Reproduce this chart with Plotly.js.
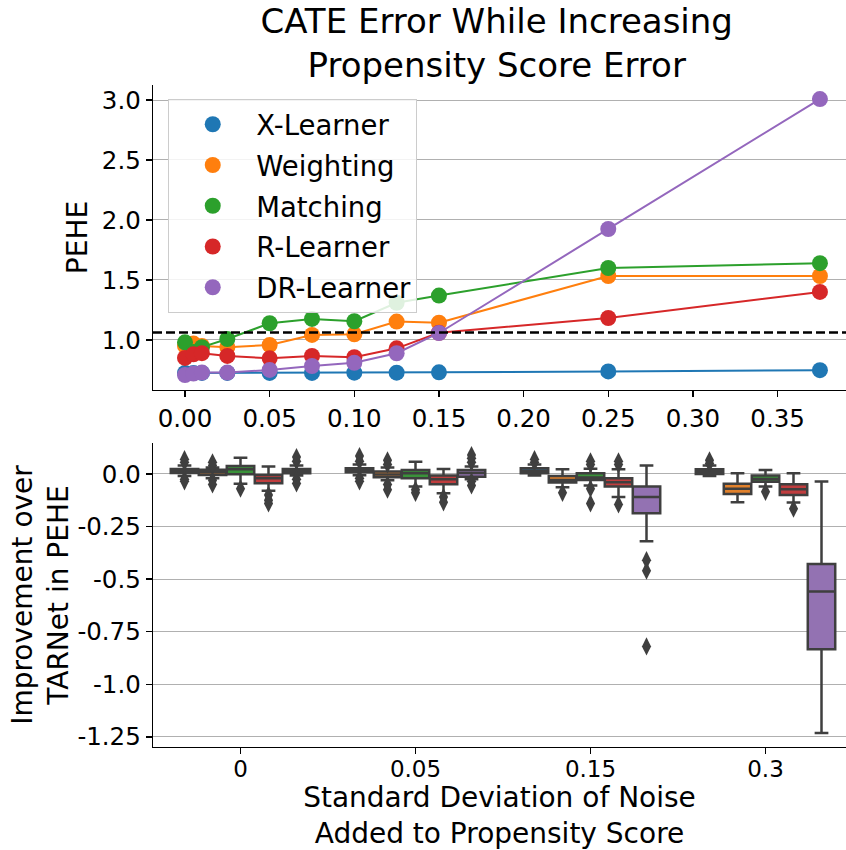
<!DOCTYPE html>
<html>
<head>
<meta charset="utf-8">
<script src="https://cdn.plot.ly/plotly-3.0.1.min.js"></script>
<style>html,body{margin:0;padding:0;background:#fff;}#chart{width:846px;height:850px;}</style>
</head>
<body>
<div id="chart"></div>
<script>
// ---------- Top panel data ----------
const noiseSD = [0, 0.005, 0.01, 0.025, 0.05, 0.075, 0.1, 0.125, 0.15, 0.25, 0.375];
const learners = ['X-Learner', 'Weighting', 'Matching', 'R-Learner', 'DR-Learner'];
const pehe_X  = [0.725, 0.725, 0.725, 0.725, 0.725, 0.725, 0.727, 0.727, 0.73, 0.738, 0.748];
const pehe_W  = [0.95, 0.97, 0.95, 0.939, 0.958, 1.042, 1.047, 1.153, 1.144, 1.533, 1.533];
const pehe_M  = [0.98, 0.90, 0.94, 1.008, 1.139, 1.175, 1.156, 1.31, 1.37, 1.60, 1.64];
const pehe_R  = [0.85, 0.88, 0.89, 0.867, 0.847, 0.867, 0.856, 0.93, 1.06, 1.183, 1.40];
const pehe_DR = [0.708, 0.72, 0.728, 0.728, 0.75, 0.783, 0.81, 0.889, 1.058, 1.925, 3.008];
const tarnetPEHE = 1.062;

// ---------- Bottom panel data ----------
const noiseGroups = ['0', '0.05', '0.15', '0.3'];
// rows: learners (X, Weighting, Matching, R, DR); cols: noise groups
const q1Vals = [
  [0.005, 0.008, 0.003, 0.0],
  [-0.005, -0.016, -0.041, -0.095],
  [-0.002, -0.02, -0.029, -0.037],
  [-0.044, -0.049, -0.06, -0.1],
  [0.003, -0.013, -0.187, -0.833]
];
const medianVals = [
  [0.014, 0.018, 0.014, 0.012],
  [0.008, -0.003, -0.029, -0.07],
  [0.022, 0.003, -0.017, -0.024],
  [-0.02, -0.025, -0.04, -0.073],
  [0.012, 0.005, -0.11, -0.559]
];
const q3Vals = [
  [0.024, 0.027, 0.027, 0.022],
  [0.02, 0.011, -0.01, -0.047],
  [0.038, 0.019, 0.003, -0.008],
  [-0.005, -0.008, -0.02, -0.049],
  [0.024, 0.019, -0.06, -0.428]
];
const lowerWhisker = [
  [-0.01, -0.006, -0.008, -0.01],
  [-0.02, -0.03, -0.063, -0.135],
  [-0.047, -0.06, -0.055, -0.06],
  [-0.08, -0.092, -0.11, -0.136],
  [-0.008, -0.025, -0.32, -1.232]
];
const upperWhisker = [
  [0.04, 0.045, 0.045, 0.04],
  [0.03, 0.03, 0.022, 0.003],
  [0.077, 0.058, 0.025, 0.019],
  [0.035, 0.024, 0.022, 0.003],
  [0.04, 0.035, 0.04, -0.036]
];
const flierVals = [
  [[0.07, 0.055, -0.025, -0.035], [0.085, 0.06, -0.02, -0.035], [0.07, 0.055], [0.065, 0.05]],
  [[0.04, 0.055, -0.03, -0.05], [0.045, 0.065, -0.05, -0.075], [-0.09], []],
  [[-0.07], [-0.075, -0.09], [0.045, 0.06, -0.07, -0.14], [-0.085]],
  [[-0.1, -0.125, -0.14], [-0.11, -0.135], [0.045, 0.06, -0.145], [-0.165]],
  [[0.06, 0.08, -0.025, -0.045], [0.055, 0.075, 0.09, -0.035, -0.055], [-0.41, -0.46, -0.82], []]
];
const yTickVals2 = [0, -0.25, -0.5, -0.75, -1.0, -1.25];
const yTickText2 = ['0.0', '-0.25', '-0.5', '-0.75', '-1.0', '-1.25'];

// ---------- Styles ----------
const lineColors = ['#1f77b4', '#ff7f0e', '#2ca02c', '#d62728', '#9467bd'];
const boxColors  = ['#3274a1', '#e1812c', '#3a923a', '#c03d3e', '#9372b2'];
const boxEdge = '#3f3f3f';
const peheSeries = [pehe_X, pehe_W, pehe_M, pehe_R, pehe_DR];

const traces = [];
peheSeries.forEach((ys, i) => {
  traces.push({
    type: 'scatter', mode: 'lines+markers', x: noiseSD, y: ys,
    line: {color: lineColors[i], width: 2},
    marker: {color: lineColors[i], size: 16},
    showlegend: false, hoverinfo: 'skip', xaxis: 'x', yaxis: 'y'
  });
});
learners.forEach((name, i) => {
  traces.push({
    type: 'scatter', mode: 'markers', x: [null], y: [null], name: name,
    marker: {color: lineColors[i], size: 17},
    showlegend: true, xaxis: 'x', yaxis: 'y', legendgroup: 'g' + i
  });
});

// grouped boxes: seaborn-like dodge (total width 0.8 split among hues)
const nHue = learners.length;
const hueWidth = 0.8 / nHue;
learners.forEach((name, h) => {
  const off = (h - (nHue - 1) / 2) * hueWidth;
  const xs = noiseGroups.map((g, gi) => gi + off);
  traces.push({
    type: 'box', x: xs,
    q1: q1Vals[h], median: medianVals[h], q3: q3Vals[h],
    lowerfence: lowerWhisker[h], upperfence: upperWhisker[h],
    width: hueWidth * 0.98, whiskerwidth: 0.5,
    fillcolor: boxColors[h], line: {color: boxEdge, width: 2.5},
    boxpoints: false, showlegend: false, hoverinfo: 'skip',
    xaxis: 'x2', yaxis: 'y2'
  });
  const fx = [], fy = [];
  flierVals[h].forEach((arr, gi) => arr.forEach(v => { fx.push(gi + off); fy.push(v); }));
  traces.push({
    type: 'scatter', mode: 'markers', x: fx, y: fy,
    marker: {symbol: 'diamond-tall', size: 13, color: boxEdge, line: {width: 0}},
    showlegend: false, hoverinfo: 'skip', xaxis: 'x2', yaxis: 'y2'
  });
});

const axisCommon = {
  showline: true, linecolor: 'black', linewidth: 1.3, mirror: false,
  ticks: 'outside', ticklen: 6, tickwidth: 1.3, tickcolor: 'black',
  zeroline: false, tickfont: {size: 24.5, color: 'black'}
};

const layout = {
  width: 846, height: 850,
  margin: {l: 153, r: 0, t: 85, b: 103},
  paper_bgcolor: 'white', plot_bgcolor: 'white',
  font: {family: 'DejaVu Sans', color: 'black', size: 24},
  hovermode: false,
  title: {
    text: 'CATE Error While Increasing<br>Propensity Score Error',
    font: {size: 34, color: 'black'},
    x: 0.496, xanchor: 'center', xref: 'paper',
    y: 0.961, yanchor: 'top', yref: 'container'
  },
  showlegend: true,
  legend: {
    x: 0.022, y: 0.979, xanchor: 'left', yanchor: 'top',
    bgcolor: 'rgba(255,255,255,0.85)', bordercolor: '#cccccc', borderwidth: 1,
    font: {size: 27.5, color: 'black'}, itemwidth: 77, tracegroupgap: 2
  },
  xaxis: Object.assign({}, axisCommon, {
    domain: [0, 1], anchor: 'y', range: [-0.0189, 0.3904],
    tick0: 0, dtick: 0.05, tickformat: '.2f', showgrid: false
  }),
  yaxis: Object.assign({}, axisCommon, {
    domain: [0.5393, 1], anchor: 'x', range: [0.583, 3.125],
    tick0: 0, dtick: 0.5, tickformat: '.1f',
    showgrid: true, gridcolor: '#b0b0b0', gridwidth: 1,
    title: {text: 'PEHE', font: {size: 28, color: 'black'}}
  }),
  xaxis2: Object.assign({}, axisCommon, {
    domain: [0, 1], anchor: 'y2', range: [-0.5, 3.46],
    tickvals: noiseGroups.map((g, i) => i), ticktext: noiseGroups, showgrid: false,
    tickfont: {size: 23, color: 'black'}, ticklabelstandoff: -5,
    title: {text: 'Standard Deviation of Noise<br>Added to Propensity Score', font: {size: 28, color: 'black'}}
  }),
  yaxis2: Object.assign({}, axisCommon, {
    domain: [0, 0.4592], anchor: 'x2', range: [-1.298, 0.147],
    tickvals: yTickVals2, ticktext: yTickText2,
    showgrid: true, gridcolor: '#b0b0b0', gridwidth: 1,
    title: {text: 'Improvement over<br>TARNet in PEHE', font: {size: 28, color: 'black'}}
  }),
  shapes: [{
    type: 'line', xref: 'x domain', x0: 0, x1: 1, yref: 'y', y0: tarnetPEHE, y1: tarnetPEHE,
    line: {color: 'black', width: 2.5, dash: '9px,4px'}, layer: 'above'
  }]
};

Plotly.newPlot('chart', traces, layout, {displayModeBar: false, staticPlot: true});
</script>
</body>
</html>
